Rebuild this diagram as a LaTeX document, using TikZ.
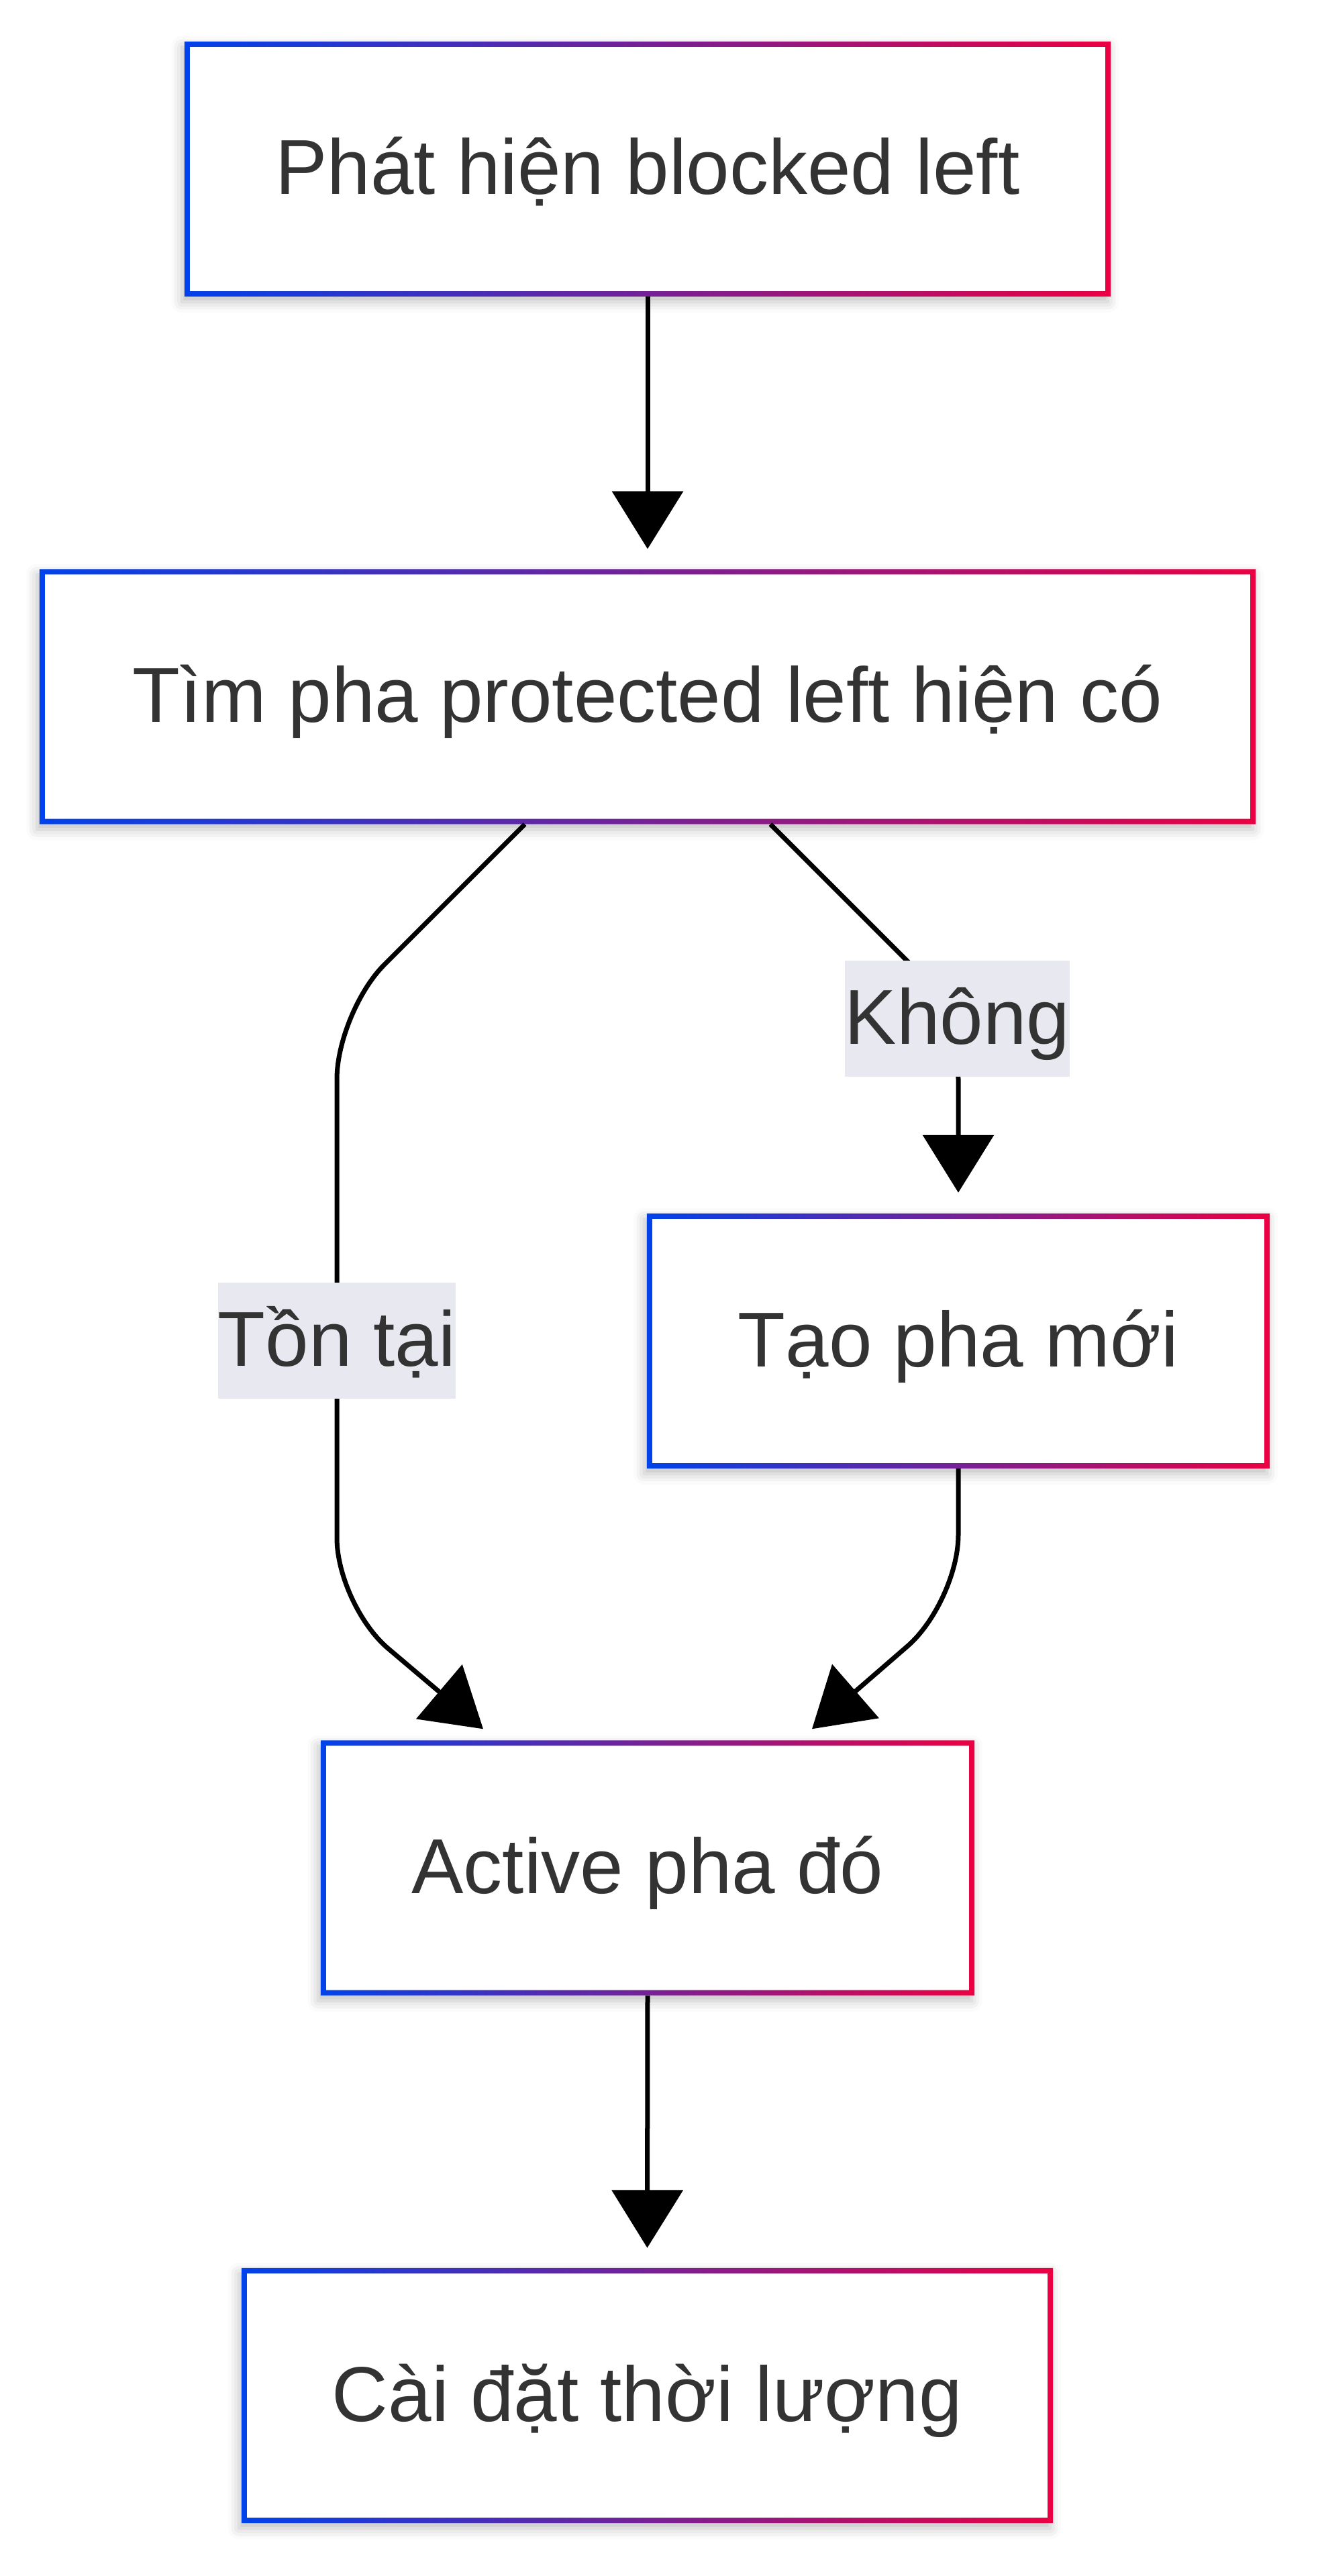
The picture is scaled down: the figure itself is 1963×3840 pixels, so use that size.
\documentclass[tikz,border=0pt]{standalone}
\usepackage{fontspec}
\setmainfont{Liberation Sans}
\usetikzlibrary{arrows.meta,shadows.blur}
\definecolor{mblue}{RGB}{0,66,235}
\definecolor{mred}{RGB}{235,0,66}
\definecolor{txtgray}{RGB}{51,51,51}
\definecolor{lblbg}{RGB}{232,232,240}

\begin{document}
\begin{tikzpicture}[x=1pt,y=-1pt,
  box/.style={rectangle, fill=white, inner sep=0pt, minimum height=380pt, text=txtgray,
    text height=100pt, text depth=24pt, font=\fontsize{116}{139}\selectfont,
    blur shadow={shadow xshift=-4pt, shadow yshift=-8pt, shadow blur radius=16pt, shadow opacity=25}},
  lbl/.style={rectangle, fill=lblbg, inner xsep=0pt, inner ysep=0pt, minimum height=173pt, text=txtgray,
    text height=100pt, text depth=24pt, font=\fontsize{116}{139}\selectfont},
  flow/.style={line width=7pt, -{Triangle[width=105pt,length=86pt]}},
  curvedflow/.style={flow, rounded corners=100pt}]
\useasboundingbox (0,0) rectangle (1963,3840);
\node[box, minimum width=1380pt] (detect) at (965,252) {Phát hiện blocked left};
\node[box, minimum width=1812pt] (find) at (965,1038.5) {Tìm pha protected left hiện có};
\node[box, minimum width=928pt] (create) at (1428,1999) {Tạo pha mới};
\node[box, minimum width=974pt] (activate) at (965,2784.5) {Active pha đó};
\node[box, minimum width=1209pt] (duration) at (964.5,3571) {Cài đặt thời lượng};
\foreach \n in {detect,find,create,activate,duration}
  \shade[left color=mblue, right color=mred, even odd rule] (\n.south west) rectangle (\n.north east)
    ([shift={(8pt,8pt)}]\n.south west) rectangle ([shift={(-8pt,-8pt)}]\n.north east);
\draw[flow] (detect.south) -- ([yshift=30pt]find.north);
\draw[curvedflow] ([xshift=-183pt]find.south) -- ++(-280,280) -- ++(0,884) -- ([shift={(-245pt,17pt)}]activate.north);
\draw[curvedflow] ([xshift=183pt]find.south) -- ++(280,280) -- ([yshift=31pt]create.north);
\draw[curvedflow] (create.south) -- ++(0,199) -- ([shift={(245pt,17pt)}]activate.north);
\draw[flow] (activate.south) -- ([yshift=30pt]duration.north);
\node[lbl] (exists) at (502,1998.5) {Tồn tại};
\node[lbl] (none) at (1426.5,1518.5) {Không};
\end{tikzpicture}
\end{document}
